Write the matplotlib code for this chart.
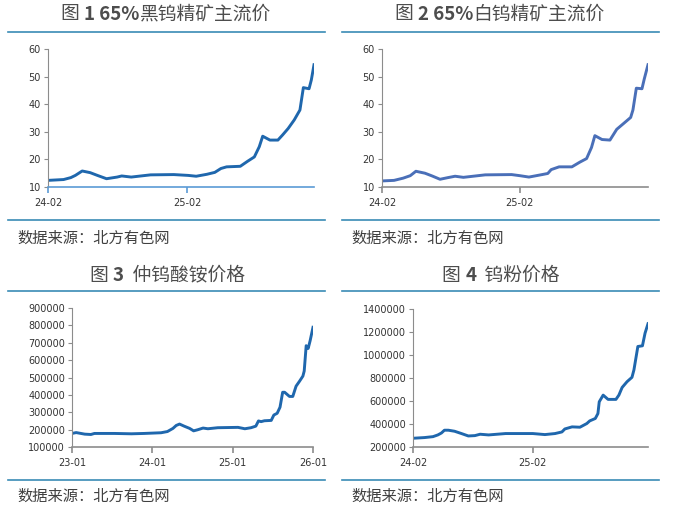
import pandas as pd
import matplotlib
matplotlib.use("Agg")
import matplotlib.pyplot as plt
import matplotlib.dates as mdates
from matplotlib.lines import Line2D
from matplotlib.ticker import StrMethodFormatter

plt.rcParams['font.family'] = ['Noto Sans CJK SC', 'DejaVu Sans']

# 图1 65%黑钨精矿主流价 (万元/吨)
dates1 = ["2024-02-01", "2024-03-13", "2024-04-01", "2024-04-13", "2024-05-01", "2024-05-22",
          "2024-06-10", "2024-07-04", "2024-08-01", "2024-08-13", "2024-09-07", "2024-10-28",
          "2024-12-28", "2025-02-04", "2025-02-25", "2025-03-25", "2025-04-15", "2025-05-01",
          "2025-05-16", "2025-06-21", "2025-07-10", "2025-07-28", "2025-08-10", "2025-08-19",
          "2025-09-07", "2025-09-28", "2025-10-10", "2025-10-25", "2025-11-10", "2025-11-25",
          "2025-12-04", "2025-12-19", "2025-12-25", "2026-01-01"]
black_wo3 = [12.4, 12.7, 13.4, 14.2, 15.8, 15.2, 14.2, 13.0, 13.6, 14.0, 13.6, 14.4,
             14.5, 14.2, 13.9, 14.6, 15.3, 16.7, 17.3, 17.5, 19.3, 20.9, 24.6, 28.4,
             27.0, 27.0, 28.8, 31.2, 34.3, 37.9, 46.0, 45.6, 48.8, 54.3]

# 图2 65%白钨精矿主流价
dates2 = ["2024-02-01", "2024-03-04", "2024-03-28", "2024-04-16", "2024-05-01", "2024-05-25",
          "2024-06-13", "2024-07-04", "2024-07-25", "2024-08-13", "2024-09-04", "2024-11-01",
          "2025-01-10", "2025-02-01", "2025-02-25", "2025-04-01", "2025-04-16", "2025-04-25",
          "2025-05-16", "2025-06-19", "2025-07-10", "2025-07-28", "2025-08-10", "2025-08-19",
          "2025-09-07", "2025-09-28", "2025-10-16", "2025-11-04", "2025-11-22", "2025-11-28",
          "2025-12-07", "2025-12-22", "2025-12-28", "2026-01-07"]
white_wo3 = [12.2, 12.4, 13.2, 14.1, 15.7, 15.0, 14.0, 12.8, 13.4, 13.9, 13.5, 14.4,
             14.5, 14.1, 13.6, 14.5, 14.9, 16.3, 17.3, 17.3, 19.0, 20.3, 24.3, 28.6,
             27.2, 27.0, 30.9, 33.1, 35.2, 37.9, 45.8, 45.6, 49.1, 54.3]

# 图3 仲钨酸铵价格 (元/吨)
dates3 = ["2023-01-01", "2023-01-20", "2023-02-28", "2023-03-28", "2023-04-13", "2023-07-13",
          "2023-09-28", "2023-11-25", "2024-02-10", "2024-03-10", "2024-04-04", "2024-04-19",
          "2024-05-04", "2024-05-25", "2024-06-19", "2024-07-07", "2024-07-25", "2024-08-19",
          "2024-09-10", "2024-10-25", "2025-01-25", "2025-02-25", "2025-03-25", "2025-04-16",
          "2025-04-28", "2025-05-10", "2025-05-25", "2025-06-25", "2025-07-07", "2025-07-22",
          "2025-08-04", "2025-08-16", "2025-08-25", "2025-09-16", "2025-10-01", "2025-10-16",
          "2025-11-01", "2025-11-16", "2025-11-22", "2025-12-01", "2025-12-10", "2025-12-19",
          "2026-01-01"]
apt = [178000, 183000, 174000, 172000, 178000, 178000, 176000, 178000, 182000, 189000,
       207000, 224000, 232000, 220000, 207000, 193000, 199000, 209000, 205000, 211000,
       213000, 205000, 211000, 220000, 250000, 246000, 251000, 253000, 284000, 294000,
       329000, 415000, 415000, 391000, 391000, 450000, 479000, 508000, 537000, 683000,
       667000, 712000, 789000]

# 图4 钨粉价格 (元/吨)
dates4 = ["2024-02-01", "2024-03-07", "2024-04-02", "2024-04-17", "2024-04-28", "2024-05-07",
          "2024-05-19", "2024-06-07", "2024-06-28", "2024-07-19", "2024-08-08", "2024-08-24",
          "2024-09-19", "2024-11-10", "2025-02-01", "2025-03-10", "2025-04-10", "2025-05-01",
          "2025-05-10", "2025-06-01", "2025-06-25", "2025-07-16", "2025-07-25", "2025-08-11",
          "2025-08-19", "2025-08-23", "2025-09-04", "2025-09-19", "2025-10-13", "2025-10-22",
          "2025-11-01", "2025-11-16", "2025-12-01", "2025-12-07", "2025-12-19", "2026-01-02",
          "2026-01-10", "2026-01-19"]
w_powder = [276000, 282000, 290000, 305000, 322000, 346000, 346000, 337000, 317000, 296000,
            299000, 311000, 305000, 317000, 317000, 308000, 317000, 331000, 357000, 375000,
            372000, 404000, 427000, 448000, 491000, 593000, 651000, 614000, 614000, 651000,
            718000, 768000, 806000, 870000, 1074000, 1080000, 1190000, 1272000]

# title pieces: (text, bold?)
titles = [[("图 ", False), ("1 65%", True), ("黑钨精矿主流价", False)],
          [("图 ", False), ("2 65%", True), ("白钨精矿主流价", False)],
          [("图 ", False), ("3", True), ("  仲钨酸铵价格", False)],
          [("图 ", False), ("4", True), ("  钨粉价格", False)]]
source = "数据来源：北方有色网"

W, H = 675, 511
fig = plt.figure(figsize=(6.75, 5.11), dpi=100)
renderer = fig.canvas.get_renderer()


def fx(px):
    return px / W


def fy(py):
    return 1 - py / H


def panel(rect, dates, vals, color, ylim, yticks, xticks, axis_color):
    l, r, t, b = rect
    ax = fig.add_axes([fx(l), fy(b), fx(r - l), (b - t) / H])
    x = pd.to_datetime(dates)
    ax.plot(x, vals, color=color, lw=2.1, solid_joinstyle='round')
    ax.set_xlim(x[0], x[-1])
    ax.set_ylim(*ylim)
    ax.set_yticks(yticks)
    ax.yaxis.set_major_formatter(StrMethodFormatter('{x:.0f}'))
    ax.set_xticks(pd.to_datetime(xticks))
    ax.xaxis.set_major_formatter(mdates.DateFormatter('%y-%m'))
    for s in ['top', 'right']:
        ax.spines[s].set_visible(False)
    ax.spines['left'].set_color('#8c8c8c')
    ax.spines['bottom'].set_color(axis_color)
    ax.spines['bottom'].set_linewidth(1.2)
    ax.tick_params(axis='y', length=3, color='#8c8c8c', pad=2, labelsize=7, labelcolor='#333333')
    ax.tick_params(axis='x', length=4, width=1.2, color=axis_color, pad=4, labelsize=7, labelcolor='#333333')
    for lab in ax.get_xticklabels() + ax.get_yticklabels():
        lab.set_family('DejaVu Sans')
    return ax


panel((48, 314, 49, 187), dates1, black_wo3, '#1f67ad', (10, 60), range(10, 61, 10),
      ["2024-02-01", "2025-02-01"], '#5b9bd5')
panel((382, 648, 49, 187), dates2, white_wo3, '#4a6fb8', (10, 60), range(10, 61, 10),
      ["2024-02-01", "2025-02-01"], '#8c8c8c')
panel((72, 313, 308, 447), dates3, apt, '#1f67ad', (100000, 900000), range(100000, 900001, 100000),
      ["2023-01-01", "2024-01-01", "2025-01-01", "2026-01-01"], '#8c8c8c')
panel((413, 648, 309, 447), dates4, w_powder, '#1f67ad', (200000, 1400000), range(200000, 1400001, 200000),
      ["2024-02-01", "2025-02-01"], '#8c8c8c')

# titles, rules and source lines
title_pos = [(166, 14), (500, 14), (167, 275), (501, 275)]
rule_x = [(8, 325), (342, 659), (8, 325), (342, 659)]
rule_y = [(32, 220), (32, 220), (291, 480), (291, 480)]
src_pos = [(17, 238), (351, 238), (17, 496), (351, 496)]

for i in range(4):
    tx, ty = title_pos[i]
    # measure the pieces, then lay them out centred on tx
    pieces = []
    for txt, bold in titles[i]:
        t = fig.text(0, fy(ty), txt, ha='left', va='center', fontsize=13.5,
                     fontweight='bold' if bold else 'normal', color='#4d4d4d')
        pieces.append((t, t.get_window_extent(renderer).width))
    total = sum(w for _, w in pieces)
    xpos = tx - total / 2
    for t, w in pieces:
        t.set_x(fx(xpos))
        xpos += w
    x0, x1 = rule_x[i]
    for yy in rule_y[i]:
        fig.add_artist(Line2D([fx(x0), fx(x1)], [fy(yy), fy(yy)], color='#3a8bb5', lw=1.2))
    sx, sy = src_pos[i]
    fig.text(fx(sx), fy(sy), source, ha='left', va='center', fontsize=11, color='#404040')

fig.savefig("out.png", dpi=100)
